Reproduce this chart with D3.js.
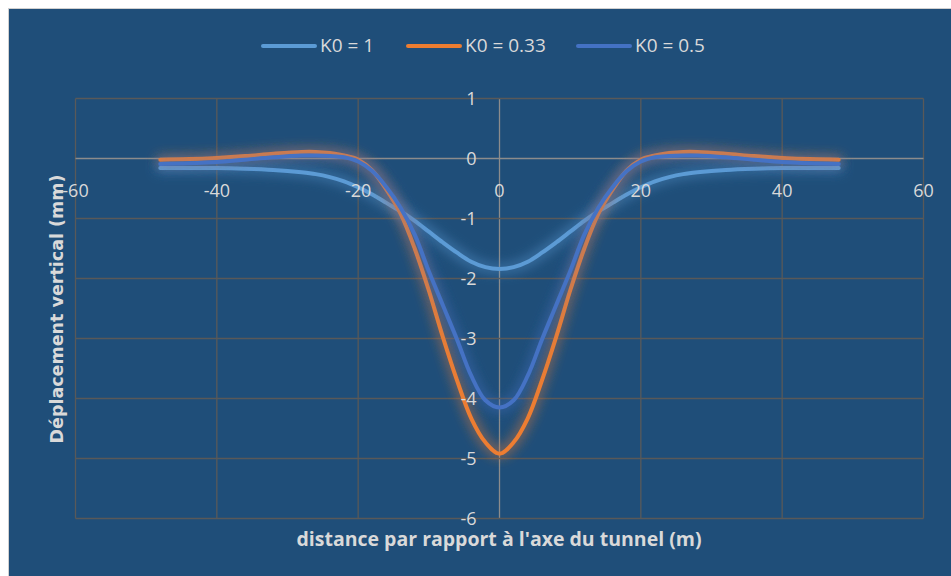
<!DOCTYPE html>
<html>
<head>
<meta charset="utf-8">
<script src="https://cdn.jsdelivr.net/npm/d3@7"></script>
<style>
  body { margin: 0; background: #ffffff; }
</style>
</head>
<body>
<div id="containerDiv"></div>
<script>

// distance to tunnel axis (m)
var distances = [-48, -44, -40, -36, -32, -28, -26, -24, -22, -20, -18, -16, -14, -12, -10, -8, -6, -4, -2, 0,
                 2, 4, 6, 8, 10, 12, 14, 16, 18, 20, 22, 24, 26, 28, 32, 36, 40, 44, 48];

// vertical displacement (mm)
var k0_1 = [-0.16, -0.16, -0.16, -0.17, -0.19, -0.23, -0.26, -0.31, -0.38, -0.48, -0.60, -0.74, -0.88, -1.04, -1.22, -1.40, -1.57, -1.72, -1.81, -1.84,
            -1.81, -1.72, -1.57, -1.40, -1.22, -1.04, -0.88, -0.74, -0.60, -0.48, -0.38, -0.31, -0.26, -0.23, -0.19, -0.17, -0.16, -0.16, -0.16];

var k0_033 = [-0.02, -0.01, 0.01, 0.04, 0.08, 0.11, 0.11, 0.09, 0.05, -0.02, -0.20, -0.52, -0.92, -1.50, -2.20, -2.98, -3.70, -4.33, -4.73, -4.92,
              -4.73, -4.33, -3.70, -2.98, -2.20, -1.50, -0.92, -0.52, -0.20, -0.02, 0.05, 0.09, 0.11, 0.11, 0.08, 0.04, 0.01, -0.01, -0.02];

var k0_05 = [-0.09, -0.08, -0.06, -0.02, 0.02, 0.05, 0.05, 0.04, 0.02, -0.05, -0.21, -0.48, -0.82, -1.27, -1.88, -2.45, -3.02, -3.62, -4.03, -4.15,
             -4.03, -3.62, -3.02, -2.45, -1.88, -1.27, -0.82, -0.48, -0.21, -0.05, 0.02, 0.04, 0.05, 0.05, 0.02, -0.02, -0.06, -0.08, -0.09];

var seriesNames = ["K0 = 1", "K0 = 0.33", "K0 = 0.5"];
var xTicks = [-60, -40, -20, 0, 20, 40, 60];
var yTicks = [1, 0, -1, -2, -3, -4, -5, -6];

var w = 951;
var h = 576;
var colors = ["#5B9BD5", "#ED7D31", "#4472C4"];
var font = "'Open Sans', 'Liberation Sans', sans-serif";

var svg = d3.select("#containerDiv")
            .append("svg")
            .attr("width", w)
            .attr("height", h);

// glow around the curves
var defs = svg.append("defs");
var glow = defs.append("filter")
    .attr("id", "glow")
    .attr("x", "-20%").attr("y", "-20%")
    .attr("width", "140%").attr("height", "140%");
glow.append("feMorphology").attr("in", "SourceGraphic").attr("operator", "dilate").attr("radius", 2).attr("result", "fat");
glow.append("feGaussianBlur").attr("in", "fat").attr("stdDeviation", 6).attr("result", "blur");
glow.append("feComponentTransfer").attr("in", "blur").attr("result", "soft")
    .append("feFuncA").attr("type", "linear").attr("slope", 0.5);
var merge = glow.append("feMerge");
merge.append("feMergeNode").attr("in", "soft");
merge.append("feMergeNode").attr("in", "SourceGraphic");

// chart background
svg.append("rect")
   .attr("x", 8.5).attr("y", 8.5)
   .attr("width", w).attr("height", h)
   .attr("fill", "#1F4E79")
   .attr("stroke", "#D0D0D0")
   .attr("stroke-width", 1);

var x = d3.scaleLinear().domain([-60, 60]).range([75.5, 923.5]);
var y = d3.scaleLinear().domain([-6, 1]).range([518.5, 98.5]);

var grid = svg.append("g");

grid.selectAll("line.v")
    .data(xTicks)
    .enter()
    .append("line")
    .attr("class", "v")
    .attr("x1", function(d) {return x(d);})
    .attr("x2", function(d) {return x(d);})
    .attr("y1", y(1))
    .attr("y2", y(-6))
    .attr("stroke", function(d) {return d === 0 ? "#8C8C8C" : "#595959";})
    .attr("stroke-width", 1.3);

grid.selectAll("line.h")
    .data(yTicks)
    .enter()
    .append("line")
    .attr("class", "h")
    .attr("x1", x(-60))
    .attr("x2", x(60))
    .attr("y1", function(d) {return y(d);})
    .attr("y2", function(d) {return y(d);})
    .attr("stroke", function(d) {return d === 0 ? "#8C8C8C" : "#595959";})
    .attr("stroke-width", 1.3);

// curves
var allSeries = [k0_1, k0_033, k0_05];

var line = d3.line()
    .x(function(d, i) {return x(distances[i]);})
    .y(function(d) {return y(d);})
    .curve(d3.curveCatmullRom.alpha(0.5));

svg.append("g")
   .selectAll("path")
   .data(allSeries)
   .enter()
   .append("path")
   .attr("d", line)
   .attr("fill", "none")
   .attr("stroke", function(d, i) {return colors[i];})
   .attr("stroke-width", 4)
   .attr("stroke-linecap", "round")
   .attr("filter", "url(#glow)");

// tick labels on the axes through the origin
svg.append("g")
   .selectAll("text")
   .data(xTicks)
   .enter()
   .append("text")
   .text(function(d) {return d;})
   .attr("x", function(d) {return x(d);})
   .attr("y", y(0) + 38)
   .attr("text-anchor", "middle")
   .attr("font-family", font)
   .attr("font-size", "18px")
   .attr("fill", "#D9D9D9");

svg.append("g")
   .selectAll("text")
   .data(yTicks)
   .enter()
   .append("text")
   .text(function(d) {return d;})
   .attr("x", x(0) - 23)
   .attr("y", function(d) {return y(d) + 6;})
   .attr("text-anchor", "end")
   .attr("font-family", font)
   .attr("font-size", "18px")
   .attr("fill", "#D9D9D9");

// axis titles
svg.append("text")
   .text("distance par rapport à l'axe du tunnel (m)")
   .attr("x", 499)
   .attr("y", 546)
   .attr("text-anchor", "middle")
   .attr("font-family", font)
   .attr("font-size", "19.5px")
   .attr("font-weight", "bold")
   .attr("fill", "#D9D9D9");

svg.append("text")
   .text("Déplacement vertical (mm)")
   .attr("transform", "translate(63,309) rotate(-90)")
   .attr("text-anchor", "middle")
   .attr("font-family", "'DejaVu Sans', sans-serif")
   .attr("font-size", "17.5px")
   .attr("font-weight", "bold")
   .attr("fill", "#D9D9D9");

// legend
var legendX = [263, 408, 578];
var legend = svg.append("g");

legend.selectAll("line")
      .data(seriesNames)
      .enter()
      .append("line")
      .attr("x1", function(d, i) {return legendX[i];})
      .attr("x2", function(d, i) {return legendX[i] + 52;})
      .attr("y1", 46)
      .attr("y2", 46)
      .attr("stroke", function(d, i) {return colors[i];})
      .attr("stroke-width", 4)
      .attr("stroke-linecap", "round");

legend.selectAll("text")
      .data(seriesNames)
      .enter()
      .append("text")
      .text(function(d) {return d;})
      .attr("x", function(d, i) {return legendX[i] + 57;})
      .attr("y", 52)
      .attr("font-family", font)
      .attr("font-size", "19px")
      .attr("fill", "#D9D9D9");

</script>
</body>
</html>
